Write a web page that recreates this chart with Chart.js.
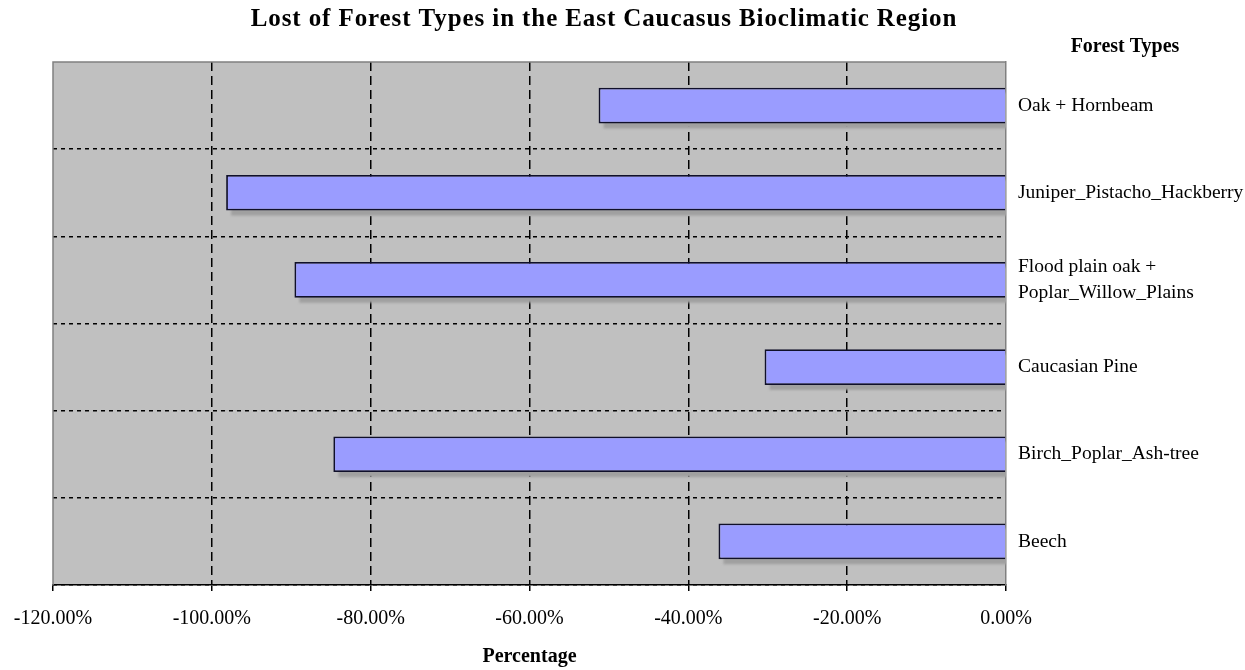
<!DOCTYPE html>
<html>
<head>
<meta charset="utf-8">
<script src="https://cdn.jsdelivr.net/npm/chart.js@4/dist/chart.umd.min.js"></script>
<style>
  html, body { margin: 0; padding: 0; background: #ffffff; }
  #wrap { width: 1245px; height: 670px; position: relative; }
</style>
</head>
<body>
<div id="wrap"><canvas id="c" width="1245" height="670"></canvas></div>
<script>
// Forest types (top to bottom) and their loss in percent
const forestTypes = [
  'Oak + Hornbeam',
  'Juniper_Pistacho_Hackberry',
  ['Flood plain oak +', 'Poplar_Willow_Plains'],
  'Caucasian Pine',
  'Birch_Poplar_Ash-tree',
  'Beech'
];
const lossPercent = [-51.3, -98.2, -89.6, -30.4, -84.7, -36.2];
const xTickMin = -120;
const xTickMax = 0;
const xTickStep = 20;

const chartTitle = 'Lost of Forest Types in the East Caucasus Bioclimatic Region';
const yAxisTitle = 'Forest Types';
const xAxisTitle = 'Percentage';

const SERIF = '"Liberation Serif", "Times New Roman", serif';

// grey plot background, bar shadows and the plot frame
const plotDecor = {
  id: 'plotDecor',
  beforeDraw(chart) {
    const {ctx, chartArea: a} = chart;
    ctx.save();
    ctx.fillStyle = '#c0c0c0';
    ctx.fillRect(a.left, a.top, a.right - a.left, a.bottom - a.top);
    ctx.restore();
  },
  beforeDatasetsDraw(chart) {
    const {ctx, chartArea: a} = chart;
    ctx.save();
    ctx.beginPath();
    ctx.rect(a.left, a.top, a.right - a.left, a.bottom - a.top);
    ctx.clip();
    ctx.fillStyle = '#a0a0a0';
    ctx.filter = 'blur(0.8px)';
    chart.getDatasetMeta(0).data.forEach(el => {
      const p = el.getProps(['x', 'y', 'base', 'height'], true);
      const l = Math.min(p.x, p.base), r = Math.max(p.x, p.base);
      ctx.fillRect(l + 5, p.y - p.height / 2 + 5, r - l, p.height);
    });
    ctx.restore();
    // frame on top and left
    ctx.save();
    ctx.strokeStyle = '#808080';
    ctx.lineWidth = 1.5;
    ctx.beginPath();
    ctx.moveTo(a.left, a.bottom);
    ctx.lineTo(a.left, a.top);
    ctx.lineTo(a.right, a.top);
    ctx.stroke();
    ctx.restore();
  },
  afterDraw(chart) {
    const {ctx} = chart;
    ctx.save();
    ctx.fillStyle = '#000';
    ctx.textAlign = 'center';
    ctx.textBaseline = 'middle';
    ctx.font = 'bold 25px ' + SERIF;
    ctx.letterSpacing = '0.9px';
    ctx.fillText(chartTitle, 604, 20);
    ctx.letterSpacing = '0px';
    ctx.font = 'bold 20px ' + SERIF;
    ctx.fillText(yAxisTitle, 1125, 47);
    ctx.restore();
  }
};

new Chart(document.getElementById('c'), {
  type: 'bar',
  data: {
    labels: forestTypes,
    datasets: [{
      data: lossPercent,
      backgroundColor: '#9a9cff',
      borderColor: '#10102a',
      borderWidth: 1.8,
      barPercentage: 0.41,
      categoryPercentage: 1.0
    }]
  },
  options: {
    indexAxis: 'y',
    responsive: false,
    animation: false,
    layout: { padding: { top: 62, left: 53, right: 0, bottom: 0 } },
    plugins: {
      legend: { display: false },
      title: { display: false },
      tooltip: { enabled: false }
    },
    scales: {
      x: {
        min: xTickMin,
        max: xTickMax,
        ticks: {
          stepSize: xTickStep,
          color: '#000',
          font: { family: SERIF, size: 20 },
          padding: 16,
          callback: v => v.toFixed(2) + '%'
        },
        grid: {
          color: c => (c.tick && (c.tick.value === xTickMin || c.tick.value === xTickMax)) ? 'rgba(0,0,0,0)' : '#000',
          lineWidth: 1.5,
          tickColor: '#000',
          tickLength: 6,
          tickWidth: 1.5
        },
        border: { color: '#000', width: 1.5, dash: [9, 5] },
        title: {
          display: true,
          text: xAxisTitle,
          color: '#000',
          font: { family: SERIF, size: 20, weight: 'bold' },
          padding: { top: 0, bottom: 1 }
        },
        afterFit(s) {
          s.height = 85;
          s.paddingLeft = 0;
          s.paddingRight = 0;
        }
      },
      y: {
        position: 'right',
        ticks: {
          color: '#000',
          font: { family: SERIF, size: 19.5, lineHeight: 1.3 },
          padding: 12
        },
        grid: {
          offset: true,
          drawTicks: false,
          color: c => (c.index === 0 || c.index === forestTypes.length) ? 'rgba(0,0,0,0)' : '#000',
          lineWidth: 1.5
        },
        border: { color: '#808080', width: 1.5, dash: [4, 4] },
        afterFit(s) { s.width = 239; }
      }
    }
  },
  plugins: [plotDecor]
});
</script>
</body>
</html>
